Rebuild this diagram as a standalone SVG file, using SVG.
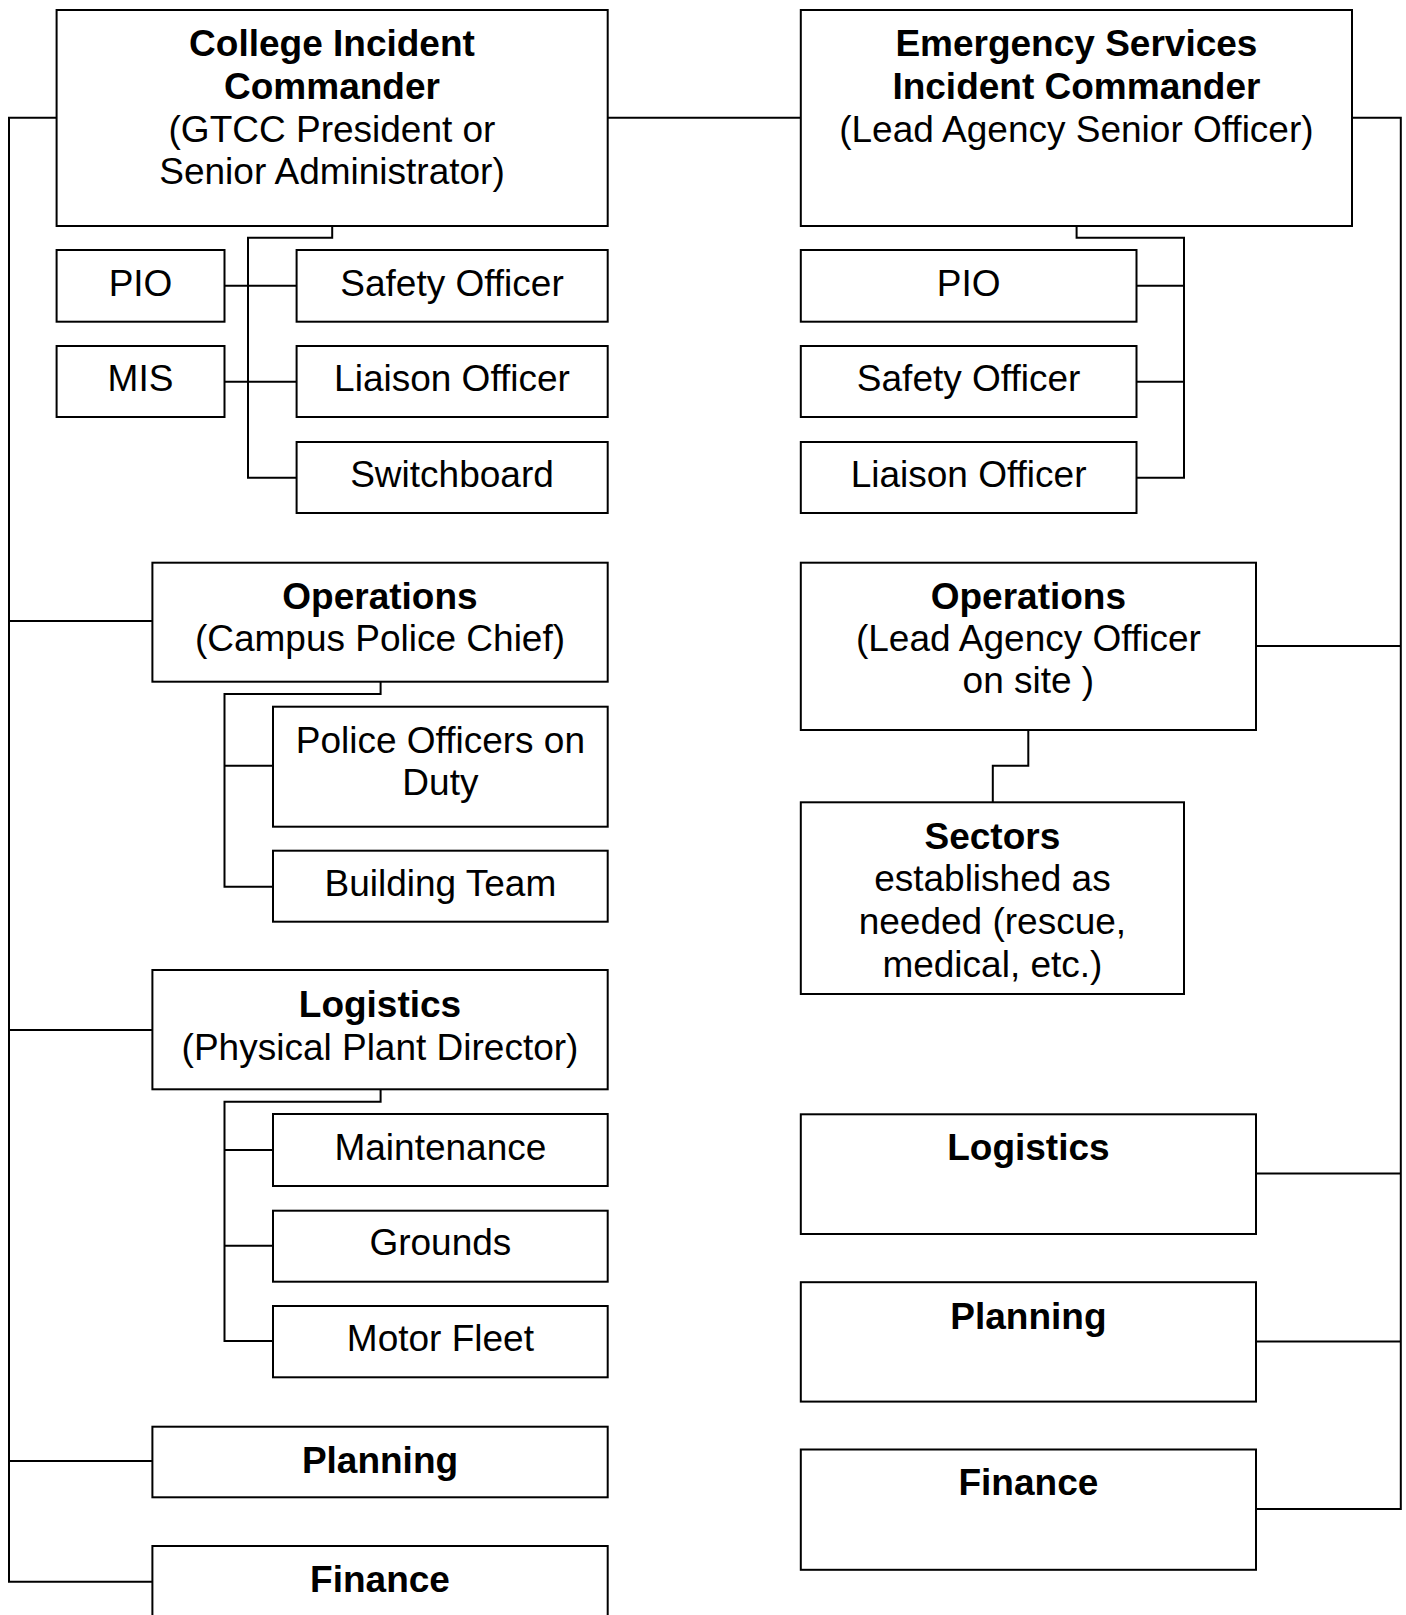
<svg xmlns="http://www.w3.org/2000/svg" width="1406" height="1615" viewBox="0 0 1406 1615">
<style>
.box{fill:#fff;stroke:#000;stroke-width:2}
.c{fill:none;stroke:#000;stroke-width:2}
text{font-family:"Liberation Sans",Arial,sans-serif;font-size:37px;fill:#000;text-anchor:middle}
.b{font-weight:bold}
</style>
<rect width="1406" height="1615" fill="#fff"/>
<g id="connectors">
<path class="c" d="M57,117.7 H9 V1581.7 H152.4"/>
<path class="c" d="M9,621 H152.4"/>
<path class="c" d="M9,1030 H152.4"/>
<path class="c" d="M9,1461 H152.4"/>
<path class="c" d="M607.7,117.7 H800.8"/>
<path class="c" d="M332.2,226 V237.7 H248 V477.7 H296.6"/>
<path class="c" d="M224.5,285.7 H296.6"/>
<path class="c" d="M224.5,381.7 H296.6"/>
<path class="c" d="M380.6,681 V694 H224.5 V886.7 H273"/>
<path class="c" d="M224.5,765.7 H273"/>
<path class="c" d="M380.6,1089 V1101.7 H224.5 V1341 H273"/>
<path class="c" d="M224.5,1150 H273"/>
<path class="c" d="M224.5,1245.7 H273"/>
<path class="c" d="M1352,117.7 H1400.8 V1509 H1256"/>
<path class="c" d="M1256,646 H1400.8"/>
<path class="c" d="M1256,1173.5 H1400.8"/>
<path class="c" d="M1256,1341.5 H1400.8"/>
<path class="c" d="M1076.6,226 V237.7 H1184 V477.7 H1136.5"/>
<path class="c" d="M1136.5,285.7 H1184"/>
<path class="c" d="M1136.5,381.7 H1184"/>
<path class="c" d="M1028.3,730 V765.7 H992.8 V802.3"/>
</g>
<g id="college-ic"><rect class="box" x="56.6" y="10" width="551.1" height="216"/>
<text x="332" y="56" class="b">College Incident</text><text x="332" y="99" class="b">Commander</text><text x="332" y="142">(GTCC President or</text><text x="332" y="184">Senior Administrator)</text></g>
<g id="l-pio"><rect class="box" x="56.6" y="250" width="167.9" height="71.7"/><text x="140.5" y="295.5">PIO</text></g>
<g id="l-mis"><rect class="box" x="56.6" y="346" width="167.9" height="71"/><text x="140.5" y="391">MIS</text></g>
<g id="l-safety"><rect class="box" x="296.6" y="250" width="311.1" height="71.7"/><text x="452" y="295.5">Safety Officer</text></g>
<g id="l-liaison"><rect class="box" x="296.6" y="346" width="311.1" height="71"/><text x="452" y="391">Liaison Officer</text></g>
<g id="l-switchboard"><rect class="box" x="296.6" y="442" width="311.1" height="71"/><text x="452" y="487">Switchboard</text></g>
<g id="l-operations"><rect class="box" x="152.4" y="562.7" width="455.3" height="119"/><text x="380" y="608.6" class="b">Operations</text><text x="380" y="651">(Campus Police Chief)</text></g>
<g id="l-police"><rect class="box" x="273" y="706.7" width="334.7" height="120"/><text x="440.4" y="752.8">Police Officers on</text><text x="440.4" y="795">Duty</text></g>
<g id="l-building"><rect class="box" x="273" y="850.7" width="334.7" height="71"/><text x="440.4" y="896">Building Team</text></g>
<g id="l-logistics"><rect class="box" x="152.4" y="970" width="455.3" height="119.3"/><text x="380" y="1016.5" class="b">Logistics</text><text x="380" y="1059.7">(Physical Plant Director)</text></g>
<g id="l-maintenance"><rect class="box" x="273" y="1114" width="334.7" height="72"/><text x="440.4" y="1159.6">Maintenance</text></g>
<g id="l-grounds"><rect class="box" x="273" y="1210.7" width="334.7" height="71"/><text x="440.4" y="1255.4">Grounds</text></g>
<g id="l-motorfleet"><rect class="box" x="273" y="1306" width="334.7" height="71.3"/><text x="440.4" y="1351.2">Motor Fleet</text></g>
<g id="l-planning"><rect class="box" x="152.4" y="1426.7" width="455.3" height="70.6"/><text x="380" y="1472.7" class="b">Planning</text></g>
<g id="l-finance"><rect class="box" x="152.4" y="1546" width="455.3" height="100"/><text x="380" y="1592" class="b">Finance</text></g>
<g id="es-ic"><rect class="box" x="800.8" y="10" width="551.2" height="216"/>
<text x="1076.4" y="56" class="b">Emergency Services</text><text x="1076.4" y="99" class="b">Incident Commander</text><text x="1076.4" y="142">(Lead Agency Senior Officer)</text></g>
<g id="r-pio"><rect class="box" x="800.8" y="250" width="335.7" height="71.7"/><text x="968.6" y="295.5">PIO</text></g>
<g id="r-safety"><rect class="box" x="800.8" y="346" width="335.7" height="71"/><text x="968.6" y="391">Safety Officer</text></g>
<g id="r-liaison"><rect class="box" x="800.8" y="442" width="335.7" height="71"/><text x="968.6" y="487">Liaison Officer</text></g>
<g id="r-operations"><rect class="box" x="800.8" y="562.7" width="455.2" height="167.3"/><text x="1028.4" y="608.6" class="b">Operations</text><text x="1028.4" y="651">(Lead Agency Officer</text><text x="1028.4" y="693">on site )</text></g>
<g id="r-sectors"><rect class="box" x="800.8" y="802.3" width="383.2" height="191.7"/><text x="992.4" y="848.5" class="b">Sectors</text><text x="992.4" y="891">established as</text><text x="992.4" y="934">needed (rescue,</text><text x="992.4" y="977">medical, etc.)</text></g>
<g id="r-logistics"><rect class="box" x="800.8" y="1114.3" width="455.2" height="119.7"/><text x="1028.4" y="1159.6" class="b">Logistics</text></g>
<g id="r-planning"><rect class="box" x="800.8" y="1282.2" width="455.2" height="119.4"/><text x="1028.4" y="1328.5" class="b">Planning</text></g>
<g id="r-finance"><rect class="box" x="800.8" y="1449.5" width="455.2" height="120.3"/><text x="1028.4" y="1495" class="b">Finance</text></g>
</svg>
